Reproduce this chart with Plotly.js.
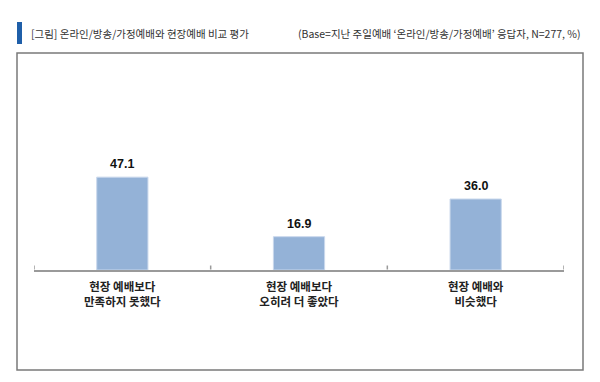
<!DOCTYPE html>
<html>
<head>
<meta charset="utf-8">
<script src="https://cdn.plot.ly/plotly-3.0.1.min.js"></script>
<style>
html,body{margin:0;padding:0;background:#fff;}
#chart{width:600px;height:382px;}
</style>
</head>
<body>
<div id="chart"></div>
<script>
// Data
var categories = ["현장 예배보다<br>만족하지 못했다", "현장 예배보다<br>오히려 더 좋았다", "현장 예배와<br>비슷했다"];
var values = [47.1, 16.9, 36.0];
var valueLabels = ["47.1", "16.9", "36.0"];
var titleText = "[그림] 온라인/방송/가정예배와 현장예배 비교 평가";
var baseText = "(Base=지난 주일예배 ‘온라인/방송/가정예배’ 응답자, N=277, %)";

var W = 600, H = 382;
var M = {l: 34, r: 36, t: 60, b: 112};
var pw = W - M.l - M.r, ph = H - M.t - M.b;
function px(x){ return (x - M.l) / pw; }
function py(y){ return (H - M.b - y) / ph; }

var kr = '"Noto Sans CJK KR", "Noto Sans", sans-serif';
var xs = categories.map(function(c, i){ return i; });

var trace = {
  type: 'bar',
  x: xs,
  y: values,
  width: 0.29,
  marker: {color: '#94b2d7', line: {color: '#c9d8ec', width: 1}},
  hoverinfo: 'none'
};

var valueAnns = values.map(function(v, i){
  return {text: valueLabels[i], x: xs[i], y: v, xref: 'x', yref: 'y', xanchor: 'center', yanchor: 'bottom',
    yshift: 4, showarrow: false,
    font: {family: '"Liberation Sans", Arial, sans-serif', size: 12.5, color: '#111', weight: 'bold'}};
});

var layout = {
  width: W, height: H,
  margin: M,
  paper_bgcolor: '#fff', plot_bgcolor: 'rgba(0,0,0,0)',
  showlegend: false,
  bargap: 0,
  xaxis: {
    range: [-0.5, 2.5],
    tickmode: 'array',
    tickvals: xs,
    ticktext: categories,
    showgrid: false, zeroline: false,
    showline: true, linecolor: '#9a9a9a', linewidth: 1.5,
    ticks: '',
    ticklabelstandoff: 6,
    tickfont: {family: kr, size: 11.5, color: '#222', weight: 'bold'},
    fixedrange: true
  },
  yaxis: {
    range: [0, 106.5],
    visible: false,
    fixedrange: true
  },
  shapes: [
    {type: 'rect', xref: 'paper', yref: 'paper', x0: px(17), x1: px(583), y0: py(53), y1: py(370),
     line: {color: '#7a7a7a', width: 1.5}, layer: 'below'},
    {type: 'rect', xref: 'paper', yref: 'paper', x0: px(17), x1: px(22), y0: py(22), y1: py(44),
     line: {width: 0}, fillcolor: '#1f5fa9'},
    {type: 'line', xref: 'x', yref: 'paper', x0: -0.5, x1: -0.5, y0: py(269.5), y1: py(265.5), line: {color: '#9a9a9a', width: 1.5}},
    {type: 'line', xref: 'x', yref: 'paper', x0: 0.5, x1: 0.5, y0: py(269.5), y1: py(265.5), line: {color: '#9a9a9a', width: 1.5}},
    {type: 'line', xref: 'x', yref: 'paper', x0: 1.5, x1: 1.5, y0: py(269.5), y1: py(265.5), line: {color: '#9a9a9a', width: 1.5}},
    {type: 'line', xref: 'x', yref: 'paper', x0: 2.5, x1: 2.5, y0: py(269.5), y1: py(265.5), line: {color: '#9a9a9a', width: 1.5}}
  ],
  annotations: [
    {text: titleText, xref: 'paper', yref: 'paper', x: px(29), y: py(33), xanchor: 'left', yanchor: 'middle',
     showarrow: false, font: {family: kr, size: 10.5, color: '#333'}},
    {text: baseText, xref: 'paper', yref: 'paper', x: px(583), y: py(33), xanchor: 'right', yanchor: 'middle',
     showarrow: false, font: {family: kr, size: 10.5, color: '#333'}}
  ].concat(valueAnns)
};

Plotly.newPlot('chart', [trace], layout, {displayModeBar: false, staticPlot: true});
</script>
</body>
</html>
